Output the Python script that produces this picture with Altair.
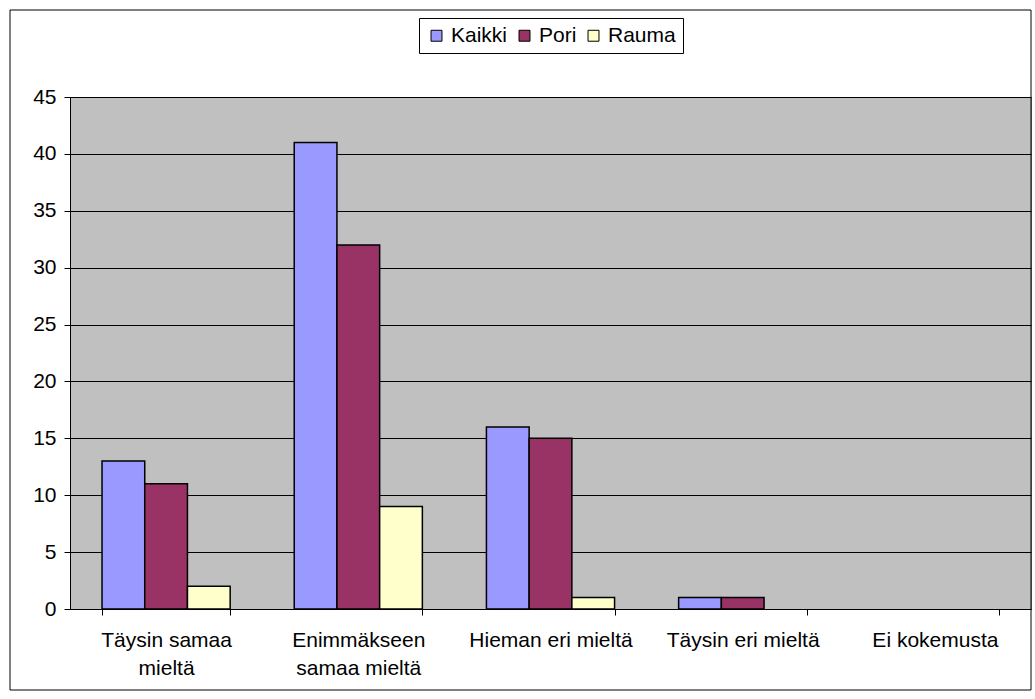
import altair as alt
import pandas as pd

categories = ["Täysin samaa mieltä", "Enimmäkseen samaa mieltä", "Hieman eri mieltä", "Täysin eri mieltä", "Ei kokemusta"]
series = ["Kaikki", "Pori", "Rauma"]
kaikki = [13, 41, 16, 1, 0]
pori = [11, 32, 15, 1, 0]
rauma = [2, 9, 1, 0, 0]
colors = ["#9999FF", "#993366", "#FFFFCC"]

rows = []
for s, vals in zip(series, [kaikki, pori, rauma]):
    for c, v in zip(categories, vals):
        rows.append({"cat": c, "series": s, "value": v})
df = pd.DataFrame(rows)

W, H = 961, 512
FONT = "Liberation Sans"
FS = 21

label_expr = ("datum.label == 'Täysin samaa mieltä' ? ['Täysin samaa', 'mieltä'] : "
              "datum.label == 'Enimmäkseen samaa mieltä' ? ['Enimmäkseen', 'samaa mieltä'] : datum.label")

bars = alt.Chart(df).mark_bar(stroke="black", strokeWidth=1.5).encode(
    x=alt.X("cat:N", sort=categories, title=None,
            scale=alt.Scale(paddingInner=1/3, paddingOuter=1/6),
            axis=alt.Axis(labelAngle=0, labelExpr=label_expr, tickBand="extent",
                          labelFont=FONT, labelFontSize=FS, labelColor="black",
                          labelPadding=14, labelLineHeight=28, tickSize=6, tickColor="black",
                          domainColor="black", grid=False)),
    xOffset=alt.XOffset("series:N", sort=series, scale=alt.Scale(paddingInner=0, paddingOuter=0)),
    y=alt.Y("value:Q", title=None,
            scale=alt.Scale(domain=[0, 45], nice=False),
            axis=alt.Axis(values=list(range(0, 46, 5)), labelFont=FONT, labelFontSize=FS,
                          labelColor="black", tickSize=6, tickColor="black", domainColor="black",
                          grid=True, gridColor="black", gridWidth=1, labelPadding=8)),
    color=alt.Color("series:N", sort=series,
                    scale=alt.Scale(domain=series, range=colors),
                    legend=alt.Legend(title=None, orient="none", direction="horizontal",
                                      legendX=349, legendY=-79, labelFont=FONT, labelFontSize=FS,
                                      labelColor="black", symbolType="square", symbolSize=120,
                                      symbolStrokeColor="black", symbolStrokeWidth=1,
                                      columnPadding=6, labelOffset=4,
                                      padding=7, strokeColor="black", fillColor="white")),
    strokeOpacity=alt.condition("datum.value == 0", alt.value(0), alt.value(1)),
)

border = alt.Chart(pd.DataFrame({"a": [0]})).mark_rect(
    fill=None, stroke="black", strokeWidth=1, clip=False
).encode(x=alt.value(-60), x2=alt.value(961), y=alt.value(-87), y2=alt.value(593))

chart = alt.layer(bars, border).properties(
    width=W, height=H,
    padding={"left": 70, "top": 97, "right": 4, "bottom": 90},
    autosize=alt.AutoSizeParams(type="none"),
    background="white",
).configure_view(fill="#C0C0C0", stroke="#808080")

chart.save("out.html", embed_options={"renderer": "svg", "actions": False})
